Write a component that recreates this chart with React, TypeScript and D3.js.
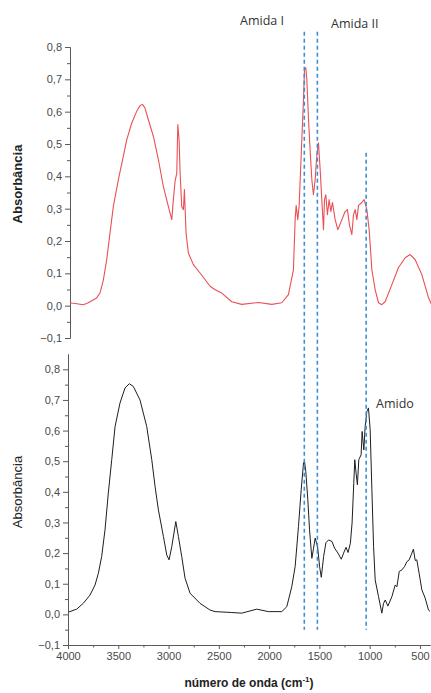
import React, { useEffect, useRef } from "react";
import * as d3 from "d3";

// FTIR spectra (wavenumber in cm-1, absorbance)
const redWave = [4000, 3983, 3867, 3824, 3735, 3702, 3668, 3635, 3602, 3569, 3519, 3470, 3436, 3386, 3337, 3303, 3277, 3254, 3221, 3171, 3121, 3072, 3022, 2988, 2972, 2955, 2938, 2928, 2915, 2905, 2889, 2872, 2862, 2856, 2846, 2823, 2773, 2707, 2607, 2557, 2491, 2391, 2292, 2126, 1993, 1894, 1828, 1778, 1761, 1751, 1735, 1721, 1711, 1695, 1678, 1668, 1655, 1645, 1628, 1612, 1595, 1579, 1562, 1545, 1529, 1512, 1496, 1479, 1469, 1456, 1440, 1423, 1406, 1390, 1363, 1337, 1304, 1264, 1241, 1221, 1197, 1181, 1164, 1147, 1131, 1098, 1075, 1048, 1025, 998, 965, 932, 899, 866, 799, 733, 667, 617, 567, 501, 435, 400];
const redAbs = [0.01, 0.008, 0.003, 0.008, 0.024, 0.039, 0.08, 0.142, 0.225, 0.307, 0.39, 0.462, 0.513, 0.565, 0.601, 0.619, 0.622, 0.611, 0.575, 0.524, 0.452, 0.369, 0.307, 0.266, 0.328, 0.385, 0.41, 0.56, 0.513, 0.41, 0.307, 0.297, 0.359, 0.307, 0.225, 0.163, 0.127, 0.101, 0.06, 0.049, 0.039, 0.012, 0.004, 0.01, 0.004, 0.009, 0.034, 0.111, 0.266, 0.31, 0.266, 0.31, 0.39, 0.51, 0.637, 0.73, 0.736, 0.7, 0.575, 0.48, 0.39, 0.343, 0.39, 0.467, 0.504, 0.42, 0.328, 0.235, 0.328, 0.343, 0.281, 0.328, 0.291, 0.319, 0.266, 0.235, 0.26, 0.291, 0.297, 0.25, 0.22, 0.281, 0.297, 0.266, 0.31, 0.319, 0.328, 0.297, 0.235, 0.111, 0.049, 0.009, 0.003, 0.012, 0.065, 0.118, 0.148, 0.158, 0.142, 0.096, 0.025, 0.0];

const blackWave = [3990, 3914, 3848, 3781, 3731, 3698, 3665, 3632, 3599, 3565, 3532, 3483, 3433, 3390, 3350, 3284, 3217, 3167, 3134, 3101, 3051, 3018, 2995, 2968, 2928, 2902, 2869, 2836, 2786, 2687, 2587, 2537, 2371, 2272, 2123, 2007, 1874, 1824, 1775, 1741, 1708, 1681, 1658, 1648, 1635, 1615, 1598, 1575, 1558, 1542, 1518, 1498, 1481, 1458, 1435, 1408, 1375, 1349, 1315, 1282, 1259, 1235, 1215, 1192, 1175, 1158, 1148, 1135, 1122, 1108, 1085, 1075, 1058, 1045, 1028, 1012, 995, 978, 961, 945, 912, 879, 862, 845, 819, 779, 746, 729, 706, 680, 653, 630, 607, 580, 565, 547, 531, 508, 481, 448, 415, 400];
const blackAbs = [0.008, 0.017, 0.036, 0.063, 0.096, 0.134, 0.189, 0.276, 0.396, 0.505, 0.613, 0.69, 0.739, 0.753, 0.744, 0.7, 0.613, 0.505, 0.417, 0.341, 0.254, 0.194, 0.178, 0.221, 0.303, 0.254, 0.189, 0.118, 0.069, 0.036, 0.014, 0.009, 0.006, 0.004, 0.017, 0.009, 0.009, 0.025, 0.09, 0.156, 0.287, 0.407, 0.494, 0.499, 0.466, 0.374, 0.276, 0.183, 0.216, 0.249, 0.221, 0.156, 0.121, 0.189, 0.234, 0.243, 0.238, 0.216, 0.2, 0.18, 0.2, 0.219, 0.202, 0.232, 0.298, 0.428, 0.505, 0.461, 0.423, 0.505, 0.521, 0.597, 0.537, 0.613, 0.662, 0.674, 0.603, 0.407, 0.221, 0.112, 0.058, 0.004, 0.036, 0.047, 0.027, 0.058, 0.096, 0.09, 0.14, 0.145, 0.156, 0.172, 0.178, 0.2, 0.213, 0.176, 0.178, 0.134, 0.08, 0.053, 0.014, 0.01];

const yTicks = [-0.1, 0, 0.1, 0.2, 0.3, 0.4, 0.5, 0.6, 0.7, 0.8];
const yMinor = [-0.05, 0.05, 0.15, 0.25, 0.35, 0.45, 0.55, 0.65, 0.75];
const xTicks = [4000, 3500, 3000, 2500, 2000, 1500, 1000, 500];
const xMinor = [3750, 3250, 2750, 2250, 1750, 1250, 750];

// band markers: wavenumber, where the dashed line starts (top-panel absorbance)
const bandWave = [1650, 1520, 1035];
const bandStart = [0.847, 0.847, 0.473];
const bandNames = ["Amida I", "Amida II", "Amido"];

const W = 431;
const H = 693;
const fmt = d3.formatLocale({ decimal: ",", thousands: ".", grouping: [3], currency: ["", ""] }).format(".1f");

function styleAxis(g) {
  g.selectAll("path,line").attr("stroke", "#5a5a5a").attr("stroke-width", 1);
  g.selectAll("text").attr("font-family", "'Liberation Sans', Arial, sans-serif").attr("font-size", 11).attr("fill", "#4a4a4a");
}

export default function App() {
  const gyTop = useRef(null);
  const gyTopMinor = useRef(null);
  const gyBot = useRef(null);
  const gyBotMinor = useRef(null);
  const gxBot = useRef(null);
  const gxBotMinor = useRef(null);

  const xTop = d3.scaleLinear([4000, 400], [70, 432]);
  const yTop = d3.scaleLinear([-0.1, 0.8], [338, 47]);
  const xBot = d3.scaleLinear([4000, 400], [68, 430]);
  const yBot = d3.scaleLinear([-0.1, 0.85], [645, 354]);

  const redLine = d3.line((d, i) => xTop(redWave[i]), (d) => yTop(d));
  const blackLine = d3.line((d, i) => xBot(blackWave[i]), (d) => yBot(d));

  useEffect(() => {
    d3.select(gyTop.current).call(d3.axisLeft(yTop).tickValues(yTicks).tickFormat(fmt).tickSize(5).tickSizeOuter(0)).call(styleAxis);
    d3.select(gyTopMinor.current).call(d3.axisLeft(yTop).tickValues(yMinor).tickFormat(() => "").tickSize(3).tickSizeOuter(0)).call(styleAxis);
    d3.select(gyBot.current).call(d3.axisLeft(yBot).tickValues(yTicks).tickFormat(fmt).tickSize(5).tickSizeOuter(0)).call(styleAxis);
    d3.select(gyBotMinor.current).call(d3.axisLeft(yBot).tickValues(yMinor).tickFormat(() => "").tickSize(3).tickSizeOuter(0)).call(styleAxis);
    d3.select(gxBot.current).call(d3.axisBottom(xBot).tickValues(xTicks).tickFormat(d3.format("d")).tickSize(4).tickSizeOuter(0)).call(styleAxis);
    d3.select(gxBotMinor.current).call(d3.axisBottom(xBot).tickValues(xMinor).tickFormat(() => "").tickSize(2.5).tickSizeOuter(0)).call(styleAxis);
  }, []);

  return (
    <svg width={W} height={H} style={{ position: "absolute", left: 0, top: 0, background: "#fff" }}>
      {/* top panel */}
      <g ref={gyTop} transform={`translate(${xTop(4000)},0)`} />
      <g ref={gyTopMinor} transform={`translate(${xTop(4000)},0)`} />
      <path d={redLine(redAbs)} fill="none" stroke="#ea5055" strokeWidth={1.1} strokeLinejoin="round" />
      <text transform="translate(22,184) rotate(-90)" textAnchor="middle" fontFamily="'Liberation Sans', Arial, sans-serif" fontSize={13} fontWeight="bold" fill="#222">Absorbância</text>

      {/* bottom panel */}
      <g ref={gyBot} transform={`translate(${xBot(4000)},0)`} />
      <g ref={gyBotMinor} transform={`translate(${xBot(4000)},0)`} />
      <g ref={gxBot} transform={`translate(0,${yBot(-0.1)})`} />
      <g ref={gxBotMinor} transform={`translate(0,${yBot(-0.1)})`} />
      <path d={blackLine(blackAbs)} fill="none" stroke="#1e1e1e" strokeWidth={1} strokeLinejoin="round" />
      <text transform="translate(22,492) rotate(-90)" textAnchor="middle" fontFamily="'Liberation Sans', Arial, sans-serif" fontSize={13} fill="#222">Absorbância</text>
      <text x={249} y={687} textAnchor="middle" fontFamily="'Liberation Sans', Arial, sans-serif" fontSize={12} fontWeight="bold" fill="#222">
        número de onda (cm<tspan dy={-5} fontSize={8}>-1</tspan><tspan dy={5}>)</tspan>
      </text>

      {/* band markers */}
      {bandWave.map((w, i) => (
        <line key={i} x1={xBot(w)} x2={xBot(w)} y1={yTop(bandStart[i])} y2={yBot(-0.05)} stroke="#3d8fd1" strokeWidth={1.6} strokeDasharray="4,3" />
      ))}
      <g fontFamily="'Open Sans', 'Noto Sans', sans-serif" fontSize={12.5} fill="#333">
        <text x={240} y={25}>{bandNames[0]}</text>
        <text x={331} y={28}>{bandNames[1]}</text>
        <text x={376} y={408}>{bandNames[2]}</text>
      </g>
    </svg>
  );
}
